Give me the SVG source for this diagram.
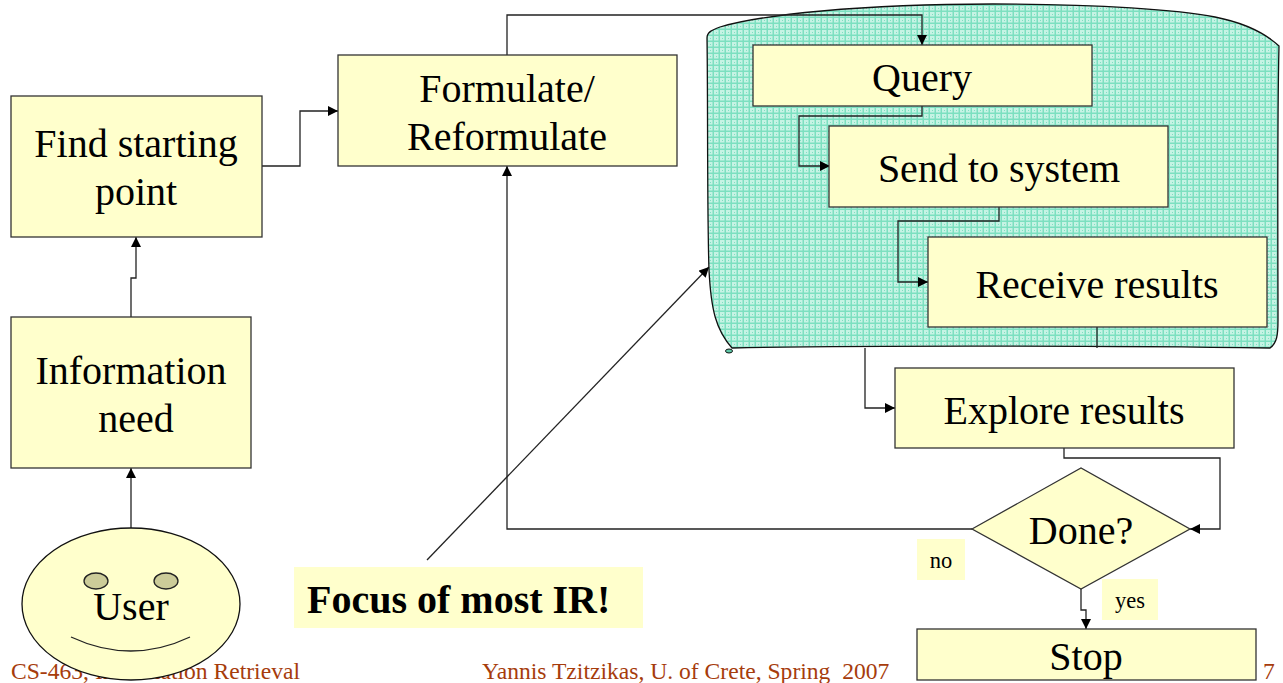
<svg xmlns="http://www.w3.org/2000/svg" width="1283" height="683" viewBox="0 0 1283 683">
<style>
text{font-family:"Liberation Serif","Times New Roman",serif;fill:#000;text-anchor:middle}
.b{fill:#ffffcc;stroke:#333;stroke-width:1.3}
.t{font-size:40px}
.s{font-size:22.5px}
.f{font-size:23.6px;fill:#a63c0c;white-space:pre}
.c{fill:none;stroke:#222;stroke-width:1.3}
.e{fill:#cccc99;stroke:#222;stroke-width:1.3}
</style>
<defs>
<pattern id="g" width="6" height="6" patternUnits="userSpaceOnUse">
<rect width="6" height="6" fill="#c6f3e4"/>
<rect x="2" y="2" width="1" height="1" fill="#7fe0c2"/>
<path d="M5.25 0V6M0 5.25H6" stroke="#7ce0c0" stroke-width="1.5"/>
</pattern>
<marker id="a" markerUnits="userSpaceOnUse" markerWidth="11" markerHeight="10" refX="10" refY="5" orient="auto"><path d="M0 0L10 5L0 10Z" fill="#000"/></marker>
</defs>
<g id="footer">
<text class="f" x="11" y="679" style="text-anchor:start">CS-463, Information Retrieval</text>
<text class="f" x="482" y="679" style="text-anchor:start">Yannis Tzitzikas, U. of Crete, Spring  2007</text>
<text class="f" x="1269" y="679">7</text>
</g>
<g id="cloud"><path d="M707 38C707 32 712 30 720 27C760 15 860 4 993 4C1100 4 1180 10 1215 17C1245 23 1265 33 1279 46C1277 130 1278 260 1278 320C1278 335 1277 343 1270 348C1130 346 880 345 732 348C716 330 711 310 709 270C707 210 708 100 707 38Z" fill="url(#g)" stroke="#111" stroke-width="1.3"/><ellipse cx="729" cy="351" rx="3.5" ry="2" fill="#5fc8a8" stroke="#111"/></g>
<g id="connectors" class="conn">
<path class="c" d="M507 55V15H922V45" marker-end="url(#a)"/>
<path class="c" d="M262 166H300V111H338" marker-end="url(#a)"/>
<path class="c" d="M131 317V278H136V237" marker-end="url(#a)"/>
<path class="c" d="M131 529V468" marker-end="url(#a)"/>
<path class="c" d="M922 106V116H799V166H830" marker-end="url(#a)"/>
<path class="c" d="M999 207V221H898V282H928" marker-end="url(#a)"/>
<path class="c" d="M1097 327V348"/>
<path class="c" d="M865 348V408H895" marker-end="url(#a)"/>
<path class="c" d="M1064 448V458H1220V529H1190" marker-end="url(#a)"/>
<path class="c" d="M972 529H507V166" marker-end="url(#a)"/>
<path class="c" d="M1081 589V610H1086V629" marker-end="url(#a)"/>
<path class="c" d="M427 560L709 267" marker-end="url(#a)"/>
</g>
<g id="query"><rect class="b" x="753" y="45" width="339" height="61"/><text class="t" x="922" y="91">Query</text></g>
<g id="send"><rect class="b" x="829" y="126" width="339" height="81"/><text class="t" x="999" y="182">Send to system</text></g>
<g id="receive"><rect class="b" x="928" y="237" width="339" height="90"/><text class="t" x="1097" y="298">Receive results</text></g>
<g id="explore"><rect class="b" x="895" y="368" width="339" height="80"/><text class="t" x="1064" y="424">Explore results</text></g>
<g id="formulate"><rect class="b" x="338" y="55" width="339" height="111"/><text class="t" x="507" y="102">Formulate/</text><text class="t" x="507" y="150">Reformulate</text></g>
<g id="start"><rect class="b" x="11" y="96" width="251" height="141"/><text class="t" x="136" y="157">Find starting</text><text class="t" x="136" y="205">point</text></g>
<g id="need"><rect class="b" x="11" y="317" width="240" height="151"/><text class="t" x="131" y="384">Information</text><text class="t" x="136" y="432">need</text></g>
<g id="user"><ellipse class="b" cx="131" cy="604" rx="109" ry="76" style="stroke:#111"/><ellipse class="e" cx="96" cy="581" rx="12" ry="8"/><ellipse class="e" cx="166" cy="581" rx="12" ry="8"/><path class="c" d="M71 637Q131 665 190 637"/><text class="t" x="131" y="620">User</text></g>
<g id="focus"><rect x="294" y="567" width="349" height="61" fill="#ffffcc"/><text x="307" y="613" style="font-size:40px;font-weight:bold;text-anchor:start">Focus of most IR!</text></g>
<g id="done"><path class="b" d="M972 529L1081 468L1190 529L1081 589Z"/><text class="t" x="1081" y="544">Done?</text></g>
<g id="stop"><rect class="b" x="917" y="629" width="339" height="51"/><text class="t" x="1086" y="670">Stop</text></g>
<g id="no"><rect x="917" y="539" width="48" height="41" fill="#ffffcc"/><text class="s" x="941" y="568">no</text></g>
<g id="yes"><rect x="1102" y="579" width="56" height="41" fill="#ffffcc"/><text class="s" x="1130" y="608">yes</text></g>
</svg>
